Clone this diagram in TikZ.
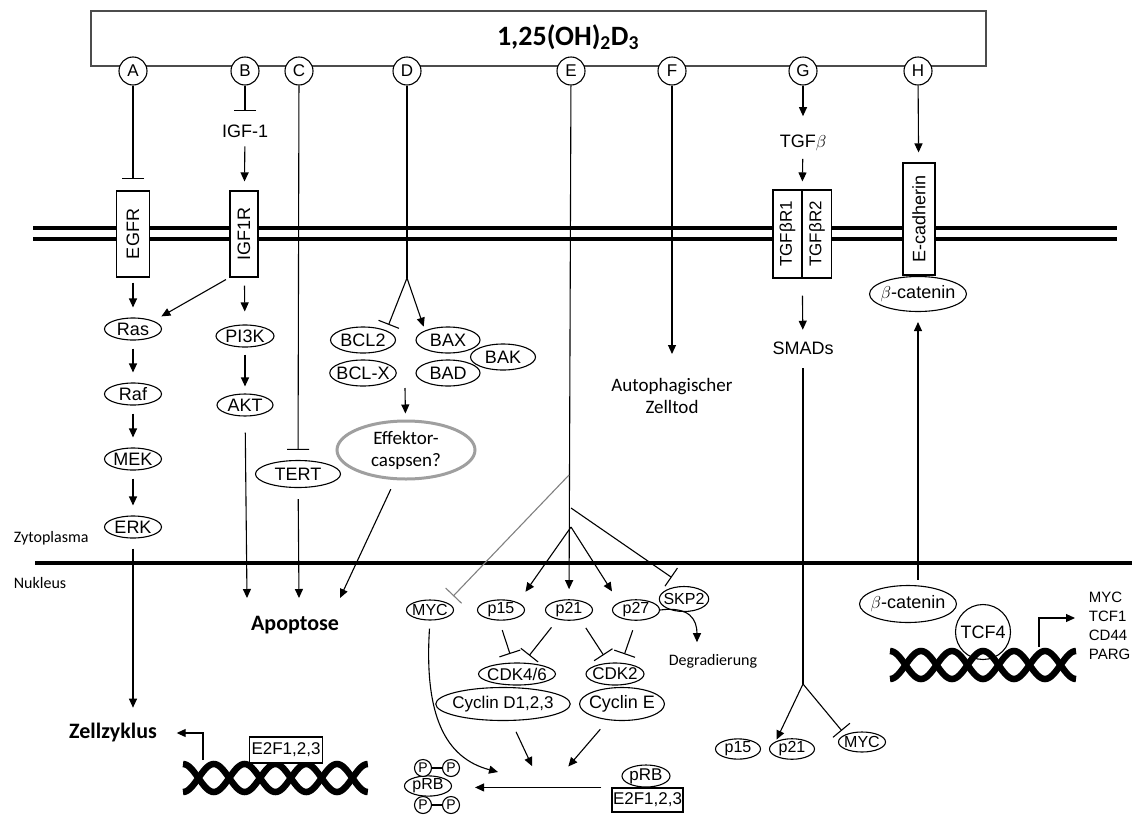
\documentclass[tikz,border=0pt]{standalone}
\usepackage{fontspec}
\setmainfont{Liberation Sans}
\newfontfamily\calfont{Carlito}
\usetikzlibrary{shapes.geometric, arrows.meta, positioning, calc}

\begin{document}
\begin{tikzpicture}[x=1pt, y=-1pt, line width=1.1pt,
    font=\fontsize{18}{21}\selectfont,
    >={Triangle[length=9pt, width=8pt]},
    inh/.style={-{Bar[width=22pt]}},
    ov/.style={draw, ellipse, fill=white, inner sep=0pt, inner xsep=-3pt, minimum height=22pt},
    nov/.style={ov, minimum width=47pt, minimum height=20pt, font=\fontsize{16}{19}\selectfont},
    rec/.style={draw, fill=white, rotate=90, inner sep=0pt, minimum width=86pt, minimum height=33pt, font=\fontsize{18}{21}\selectfont},
    lett/.style={draw, circle, fill=white, inner sep=0pt, minimum size=28pt, font=\fontsize{17}{20}\selectfont},
    pcirc/.style={draw, circle, fill=white, inner sep=0pt, minimum size=17pt, font=\fontsize{14}{16}\selectfont},
    ebox/.style={draw, fill=white, inner sep=0pt, minimum width=73pt, minimum height=26pt, font=\fontsize{17}{20}\selectfont},
    mem/.style={line width=4pt},
    helix/.style={line width=6.5pt},
    lbl/.style={font=\calfont\fontsize{16}{21}\selectfont},
    big/.style={font=\calfont\bfseries\fontsize{22}{26}\selectfont}]

    \useasboundingbox (0,0) rectangle (1132,814);

    % membranes
    \draw[mem] (33,228) -- (1117,228);
    \draw[mem] (33,239) -- (1117,239);
    \draw[mem] (35,563) -- (1132,563);

    \node[draw=gray!60!black, line width=1.5pt, anchor=north west, minimum width=895pt, minimum height=55pt] (vitd) at (90,10) {};
    \node[font=\calfont\bfseries\fontsize{28}{32}\selectfont] (title) at (568,37) {1,25(OH)\textsubscript{2}D\textsubscript{3}};
    \foreach \l/\x in {A/133, B/245, C/299, D/407, E/571, F/672, G/803, H/918}
        \node[lett] (c\l) at (\x,71) {\l};

    % receptors
    \node[rec] (egfr) at (133,234) {EGFR};
    \node[rec, minimum height=28pt] (igf1r) at (244,234) {IGF1R};
    \node[rec, minimum width=88pt, minimum height=29pt, font=\fontsize{17}{20}\selectfont] (tgfr1) at (787.5,234) {TGFβR1};
    \node[rec, minimum width=88pt, minimum height=29pt, font=\fontsize{17}{20}\selectfont] (tgfr2) at (817,234) {TGFβR2};
    \node[rec, minimum width=112pt, minimum height=32pt] (ecad) at (919,219) {E-cadherin};

    \node (igf) at (245,131) {IGF-1};
    \node (tgfb) at (803,143) {TGF$\beta$};
    \node (smads) at (803,348) {SMADs};

    % cytoplasm
    \node[ov, minimum width=57pt] (ras) at (133,329) {Ras};
    \node[ov, minimum width=57pt] (raf) at (133,394) {Raf};
    \node[ov, minimum width=57pt] (mek) at (133,459) {MEK};
    \node[ov, minimum width=57pt] (erk) at (133,527) {ERK};
    \node[ov, minimum width=58pt] (pi3k) at (245,336) {PI3K};
    \node[ov, minimum width=56pt] (akt) at (245,405) {AKT};
    \node[ov, minimum width=85pt, minimum height=27pt] (tert) at (298,474) {TERT};
    \node[ov, minimum width=65pt, minimum height=26pt] (bak) at (503,357) {BAK};
    \node[ov, minimum width=65pt, minimum height=26pt] (bcl2) at (363,340) {BCL2};
    \node[ov, minimum width=65pt, minimum height=26pt] (bclx) at (363,373) {BCL-X};
    \node[ov, minimum width=64pt, minimum height=26pt] (bax) at (448,340) {BAX};
    \node[ov, minimum width=64pt, minimum height=26pt] (bad) at (448,373) {BAD};
    \node[ov, font=\calfont\fontsize{19}{22}\selectfont, draw=gray!75, line width=3pt, minimum width=138pt, minimum height=58pt, inner ysep=-2pt, align=center] (eff) at (406,450) {Effektor-\\caspsen?};
    \node[ov, minimum width=93pt, minimum height=35pt] (bcat1) at (918,294) {$\beta$-catenin};
    \node[lbl, font=\calfont\fontsize{19}{22}\selectfont, align=center, anchor=north] (auto) at (672,374) {Autophagischer\\Zelltod};

    \node[lbl, anchor=west] (zyto) at (10,538) {Zytoplasma};
    \node[lbl, anchor=west] (nukl) at (10,583) {Nukleus};
    \node[big] (apo) at (295,625) {Apoptose};
    \node[big] (zz) at (113,733) {Zellzyklus};

    % nucleus
    \node[nov] (mycn) at (430,610) {MYC};
    \node[nov] (p15n) at (501,610) {p15};
    \node[nov] (p21n) at (569,610) {p21};
    \node[nov] (p27n) at (636,610) {p27};
    \node[nov, minimum width=48pt, minimum height=25pt] (skp2) at (684,599) {SKP2};
    \node[lbl] (degr) at (713,661) {Degradierung};
    \node[ov, minimum width=127pt, minimum height=33pt, font=\fontsize{17}{20}\selectfont] (cycd) at (503,704) {Cyclin D1,2,3};
    \node[ov, minimum width=77pt, font=\fontsize{17}{20}\selectfont] (cdk46) at (517,674) {CDK4/6};
    \node[ov, minimum width=83pt, minimum height=33pt] (cyce) at (622,704) {Cyclin E};
    \node[ov, minimum width=58pt, font=\fontsize{17}{20}\selectfont] (cdk2) at (615,674) {CDK2};

    \node[nov] (prbP) at (428,786) {pRB};
    \node[pcirc] (pP1) at (423,768) {P};
    \node[pcirc] (pP2) at (451,768) {P};
    \node[pcirc] (pP3) at (423,805) {P};
    \node[pcirc] (pP4) at (451,805) {P};
    \draw (pP1) -- (pP2);
    \draw (pP3) -- (pP4);
    \node[ebox, minimum width=71pt, minimum height=24pt] (e2fb) at (647.5,800) {E2F1,2,3};
    \node[ov, minimum width=48pt, font=\fontsize{17}{20}\selectfont] (prb2) at (646,776) {pRB};

    \node[nov, minimum width=45pt] (p15g) at (738,749) {p15};
    \node[nov, minimum width=45pt] (p21g) at (792,749) {p21};
    \node[nov] (mycg) at (862,742) {MYC};

    \node[ov, minimum width=93pt, minimum height=37pt] (bcat2) at (908,604) {$\beta$-catenin};
    \node[draw, circle, fill=white, inner sep=0pt, minimum size=55pt] (tcf4) at (983,632) {TCF4};
    \node[anchor=west, align=left, font=\fontsize{15}{19}\selectfont] (tgt) at (1085,626) {MYC\\TCF1\\CD44\\PARG};

    % DNA
    \foreach \s in {1,-1} {
        \draw[helix] plot[domain=0:1080, samples=109, smooth] ({183+\x/180*30.8}, {778+\s*14*cos(\x)});
        \draw[helix] plot[domain=0:1080, samples=109, smooth] ({890+\x/180*31}, {665+\s*14*cos(\x)});
    }
    \node[ebox] (e2fL) at (286,750) {E2F1,2,3};

    \coordinate (dbr) at (407,278);
    \coordinate (bclmid) at (405,388);
    \coordinate (eb1) at (569,475);
    \coordinate (eb2) at (571,508);
    \coordinate (eb3) at (571,527);
    \coordinate (gbr) at (803,684);
    \coordinate (apoA) at (247,598);
    \coordinate (apoB) at (299,598);
    \coordinate (apoC) at (340,598);
    \coordinate (ph0) at (498,772);
    \coordinate (ph1) at (533,768);
    \coordinate (ph2) at (567,768);
    \coordinate (dnaL) at (203,760);
    \coordinate (dnaR) at (1039,647);

    % A, B
    \draw[inh, shorten >=11pt] (cA) -- (egfr);
    \draw[inh, shorten >=10pt] (cB) -- (igf);
    \draw[->, shorten <=5pt, shorten >=9pt] (igf) -- (igf1r);
    \draw[->, shorten <=5pt, shorten >=10pt] (egfr) -- (ras);
    \draw[->, shorten <=4pt, shorten >=9pt] (igf1r.north west) -- (ras.north east);
    \draw[->, shorten <=8pt, shorten >=13pt] (igf1r) -- (pi3k);
    \foreach \a/\b in {ras/raf, raf/mek, mek/erk}
        \draw[->, shorten <=8pt, shorten >=10pt] (\a) -- (\b);
    \draw[->, shorten <=7pt, shorten >=7pt] (pi3k) -- (akt);
    \draw[->, shorten <=16pt] (akt) -- (apoA);
    \draw[->, shorten <=10pt, shorten >=12pt] (erk) -- (erk |- zz.north);
    \draw[->, shorten >=16pt] (dnaL) |- (zz.east);

    % C, D
    \draw[inh, shorten >=10pt] (cC) -- (tert);
    \draw[->, shorten <=11pt] (tert) -- (apoB);
    \draw (cD) -- (dbr);
    \draw[inh, shorten >=6pt] (dbr) -- (bcl2.north east);
    \draw[->, shorten >=4pt] (dbr) -- (bax.north west);
    \draw[->, shorten >=6pt] (bclmid) -- (eff);
    \draw[->, shorten <=10pt] (eff.250) -- (apoC);

    % E
    \draw[->, shorten >=10pt] (cE) -- (p21n);
    \draw[gray, inh, shorten >=9pt] (eb1) -- (mycn.north east);
    \draw[inh, shorten >=15pt] (eb2) -- (skp2.north);
    \draw[->, shorten >=13pt] (eb3) -- (p15n.north east);
    \draw[->, shorten >=13pt] (eb3) -- (p27n.north west);
    \draw[->] (p27n.east) .. controls (690,606) and (697,620) .. ($(degr.north)+(-16,-8)$);
    \draw[inh, shorten <=10pt, shorten >=9pt] (p15n.260) -- (cdk46.110);
    \draw[inh, shorten <=10pt, shorten >=9pt] (p21n.220) -- (cdk46.60);
    \draw[inh, shorten <=10pt, shorten >=9pt] (p21n.-40) -- (cdk2.120);
    \draw[inh, shorten <=10pt, shorten >=9pt] (p27n.south) -- (cdk2.60);
    \draw[->, shorten <=8pt] (mycn.south) .. controls (424,715) and (445,758) .. (ph0);
    \draw[->, shorten <=12pt, shorten >=2pt] (cycd) -- (ph1);
    \draw[->, shorten <=12pt, shorten >=2pt] (cyce) -- (ph2);
    \draw[->, shorten <=10pt, shorten >=23pt] (e2fb.north west) -- (prbP.east |- e2fb.north west);

    % F
    \draw[->, shorten >=20pt] (cF) -- (auto.north);

    % G
    \draw[->, shorten >=15pt] (cG) -- (tgfb);
    \draw[->, shorten <=4pt, shorten >=8pt] (tgfb) -- ($(tgfr1.east)!0.5!(tgfr2.east)$);
    \draw[->, shorten <=17pt, shorten >=8pt] ($(tgfr1.west)!0.5!(tgfr2.west)$) -- (smads);
    \draw[shorten <=10pt] (smads) -- (gbr);
    \draw[->, shorten >=2pt] (gbr) -- (p21g.north west);
    \draw[inh, shorten >=5pt] (gbr) -- (mycg.north west);

    % H
    \draw[->, shorten >=10pt] (cH) -- (ecad);
    \draw[->, shorten <=5pt, shorten >=10pt] (bcat2.north -| bcat1.south) -- (bcat1.south);
    \draw[->, shorten >=10pt] (dnaR) |- ($(tgt.west)+(0,-8)$);
\end{tikzpicture}
\end{document}
